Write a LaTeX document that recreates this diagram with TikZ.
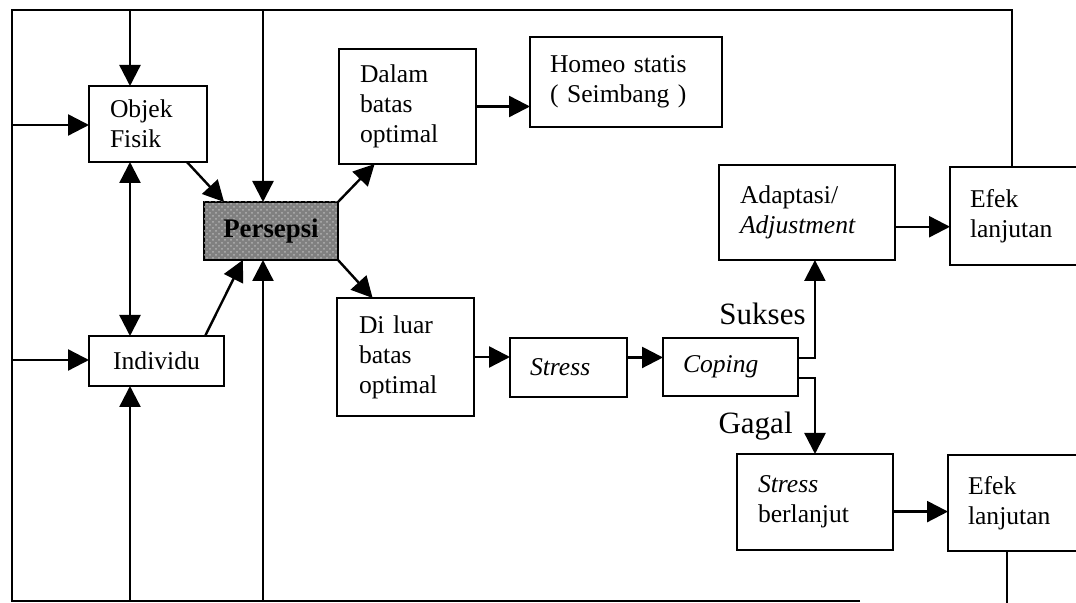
\documentclass[tikz,border=0pt]{standalone}
\usepackage{fontspec}
\setmainfont{Liberation Serif}
\usetikzlibrary{arrows.meta,calc,patterns}
\newcommand\bxfont{\fontsize{12.8}{15}\selectfont}
\newcommand\lblfont{\fontsize{15.5}{18}\selectfont}
\begin{document}
\begin{tikzpicture}[x=0.5pt,y=-0.5pt,
  bx/.style={draw, line width=1.2pt, inner ysep=0pt, outer sep=0pt, anchor=north west, font=\bxfont, align=left},
  arr/.style={line width=1.2pt, -{Triangle[length=10.5pt,width=10.5pt]}},
  arrr/.style={line width=1.2pt, {Triangle[length=10.5pt,width=10.5pt]}-{Triangle[length=10.5pt,width=10.5pt]}},
  ln/.style={line width=1.2pt},
  lbl/.style={font=\lblfont, inner sep=0pt, anchor=east}]
\useasboundingbox (0,0) rectangle (1076,603);
\clip (0,0) rectangle (1076,603);

% frame coordinates
\coordinate (TL) at (12,10);
\coordinate (TR) at (1012,10);
\coordinate (BL) at (12,601);
\coordinate (BR) at (860,601);
\coordinate (tA) at (130,10);
\coordinate (tB) at (263,10);
\coordinate (bA) at (130,601);
\coordinate (bB) at (263,601);
\coordinate (lA) at (12,125);
\coordinate (lB) at (12,360);
\coordinate (bR) at (1007,603);

% boxes
\node[bx, text width=38pt, inner xsep=10.5pt, minimum height=38pt] (objek) at (89,86) {Objek\\Fisik};
\node[bx, align=center, text width=57.5pt, inner xsep=5pt, minimum height=25pt] (individu) at (89,336) {Individu};
\node[bx, align=center, text width=57pt, inner xsep=5pt, minimum height=29pt, fill=black!50,
      font=\fontsize{13.4}{15}\selectfont\bfseries,
      postaction={pattern=crosshatch dots, pattern color=white!70!black}] (persepsi) at (204,202) {Persepsi};
\node[bx, text width=47.5pt, inner xsep=10.5pt, minimum height=57.5pt] (dalam) at (339,49) {Dalam\\batas\\optimal};
\node[bx, text width=76pt, inner xsep=10pt, minimum height=45pt] (homeo) at (530,37) {Homeo statis\\( Seimbang )};
\node[bx, text width=46.5pt, inner xsep=11pt, minimum height=59pt] (diluar) at (337,298) {Di luar\\batas\\optimal};
\node[bx, text width=38.5pt, inner xsep=10pt, minimum height=29.5pt] (stress) at (510,338) {\textit{Stress}};
\node[bx, text width=47.5pt, inner xsep=10pt, minimum height=29pt] (coping) at (663,338) {\textit{Coping}};
\node[bx, text width=67pt, inner xsep=10.5pt, minimum height=47.5pt] (adaptasi) at (719,165) {Adaptasi/\\\textit{Adjustment}};
\node[bx, text width=50pt, inner xsep=10pt, minimum height=49pt] (efekA) at (950,167) {Efek\\lanjutan};
\node[bx, text width=57pt, inner xsep=10.5pt, minimum height=48pt] (stressb) at (737,454) {\textit{Stress}\\berlanjut};
\node[bx, text width=51pt, inner xsep=10pt, minimum height=48pt] (efekB) at (948,455) {Efek\\lanjutan};

% labels
\node[lbl] (sukses) at (806,314) {Sukses};
\node[lbl] (gagal) at (793,426) {Gagal};

% frame
\draw[ln] (BR) -- (BL) -- (TL) -- (TR) -- (TR |- efekA.north);
\draw[ln] (bR |- efekB.south) -- (bR);

% inputs
\draw[arr] (tA) -- (tA |- objek.north);
\draw[arr] (lA) -- (lA -| objek.west);
\draw[arrr] (tA |- objek.south) -- (tA |- individu.north);
\draw[arr] (lB) -- (lB -| individu.west);
\draw[arr] (bA) -- (bA |- individu.south);
\draw[arr] (tB) -- (tB |- persepsi.north);
\draw[arr] (bB) -- (bB |- persepsi.south);
\draw[arr] ($(objek.south west)!0.83!(objek.south east)$) -- ($(persepsi.north west)!0.15!(persepsi.north east)$);
\draw[arr] ($(individu.north west)!0.86!(individu.north east)$) -- ($(persepsi.south west)!0.29!(persepsi.south east)$);

% persepsi outputs
\draw[arr] (persepsi.north east) -- ($(dalam.south west)!0.26!(dalam.south east)$);
\draw[arr] (persepsi.south east) -- ($(diluar.north west)!0.26!(diluar.north east)$);
\draw[arr] (dalam.east) -- (dalam.east -| homeo.west);
\draw[arr] (diluar.east) -- (diluar.east -| stress.west);
\draw[arr] ($(stress.north east)!0.33!(stress.south east)$) coordinate (s1) -- (s1 -| coping.west);

% coping outcomes
\draw[arr] ($(coping.north east)!0.34!(coping.south east)$) -| ($(adaptasi.south west)!0.545!(adaptasi.south east)$);
\draw[arr] ($(coping.north east)!0.69!(coping.south east)$) -| (stressb.north);
\draw[arr] ($(adaptasi.north east)!0.65!(adaptasi.south east)$) coordinate (a1) -- (a1 -| efekA.west);
\draw[arr] ($(stressb.north east)!0.6!(stressb.south east)$) coordinate (b1) -- (b1 -| efekB.west);
\end{tikzpicture}
\end{document}
